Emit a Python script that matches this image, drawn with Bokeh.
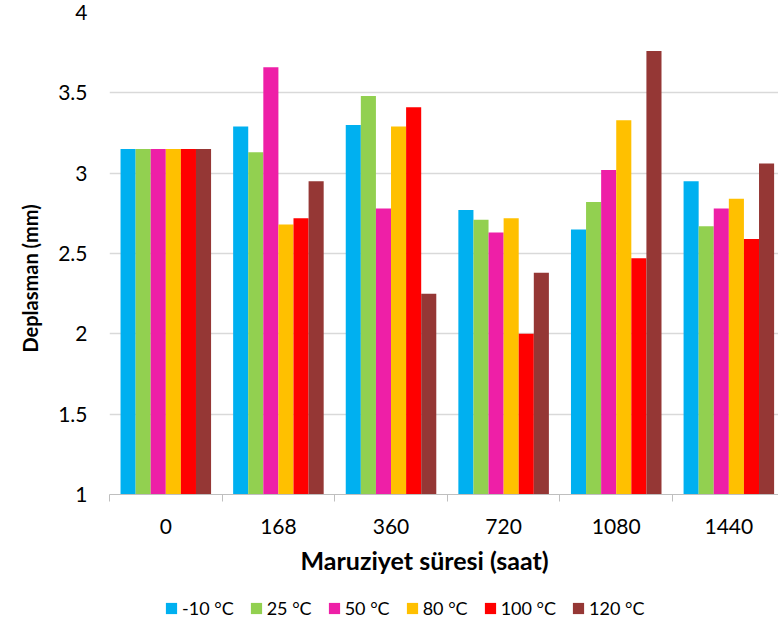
from bokeh.plotting import figure
from bokeh.models import ColumnDataSource, FixedTicker, Legend, LegendItem, CustomJSTickFormatter, Range1d, Title
from bokeh.layouts import column
from bokeh.embed import file_html
from bokeh.resources import INLINE

# ---- data ----
groups = ["0", "168", "360", "720", "1080", "1440"]
series_names = ["-10 °C", "25 °C", "50 °C", "80 °C", "100 °C", "120 °C"]
s_m10 = [3.15, 3.29, 3.30, 2.77, 2.65, 2.95]
s_25 = [3.15, 3.13, 3.48, 2.71, 2.82, 2.67]
s_50 = [3.15, 3.66, 2.78, 2.63, 3.02, 2.78]
s_80 = [3.15, 2.68, 3.29, 2.72, 3.33, 2.84]
s_100 = [3.15, 2.72, 3.41, 2.00, 2.47, 2.59]
s_120 = [3.15, 2.95, 2.25, 2.38, 3.76, 3.06]
y_ticks = [1, 1.5, 2, 2.5, 3, 3.5, 4]
x_title = "Maruziyet süresi (saat)"
y_title = "Deplasman (mm)"

series = [s_m10, s_25, s_50, s_80, s_100, s_120]
colors = ["#00B0F0", "#92D050", "#EE1FA7", "#FFC000", "#FF0000", "#953735"]

FONT = "Lato"
bar_w = 0.134
n_groups = len(groups)

p = figure(
    width=778, height=594,
    x_range=Range1d(0, 5.941), y_range=Range1d(1, 4),
    output_backend="svg", toolbar_location=None,
    min_border_left=109, min_border_right=0, min_border_top=12, min_border_bottom=100,
)
p.outline_line_color = None
p.background_fill_color = "white"
p.border_fill_color = "white"

# legend strip (separate small figure under the chart)
lf = figure(width=778, height=28, x_range=Range1d(0, 5.941), y_range=Range1d(10, 11),
            output_backend="svg", toolbar_location=None,
            x_axis_location=None, y_axis_location=None,
            min_border_left=0, min_border_right=0, min_border_top=0, min_border_bottom=0)
lf.outline_line_color = None
lf.grid.visible = False
lf.background_fill_color = "white"
lf.border_fill_color = "white"

items = []
for j, (vals, name, col) in enumerate(zip(series, series_names, colors)):
    xs = [i + 0.5 + (j - 2.5) * bar_w for i in range(n_groups)]
    src = ColumnDataSource(dict(x=xs, top=vals))
    p.vbar(x="x", top="top", bottom=1, width=bar_w, source=src,
           fill_color=col, line_color=None)
    # same data in the legend strip, outside its visible y range (swatch only)
    r = lf.vbar(x="x", top="top", bottom=1, width=bar_w, source=src,
                fill_color=col, line_color=None)
    items.append(LegendItem(label=name, renderers=[r]))

# x axis
p.xaxis.ticker = FixedTicker(ticks=[i + 0.5 for i in range(n_groups)],
                             minor_ticks=list(range(n_groups + 1)))
p.xaxis.major_label_overrides = {i + 0.5: g for i, g in enumerate(groups)}
p.xaxis.major_tick_out = 0
p.xaxis.major_tick_in = 0
p.xaxis.minor_tick_out = 7
p.xaxis.minor_tick_in = 0
p.xaxis.minor_tick_line_color = "#bfbfbf"
p.xaxis.axis_line_color = "#bfbfbf"
p.xaxis.major_label_text_font = FONT
p.xaxis.major_label_text_font_size = "21px"
p.xaxis.major_label_text_color = "black"
p.xaxis.major_label_standoff = 17

# y axis
p.yaxis.ticker = FixedTicker(ticks=y_ticks)
p.yaxis.formatter = CustomJSTickFormatter(code="return tick.toString();")
p.yaxis.major_tick_out = 0
p.yaxis.major_tick_in = 0
p.yaxis.minor_tick_out = 0
p.yaxis.minor_tick_in = 0
p.yaxis.axis_line_color = None
p.yaxis.major_label_text_font = FONT
p.yaxis.major_label_text_font_size = "21px"
p.yaxis.major_label_text_color = "black"
p.yaxis.major_label_standoff = 22

p.xgrid.grid_line_color = None
p.ygrid.ticker = FixedTicker(ticks=y_ticks)
p.ygrid.grid_line_color = "#d9d9d9"
p.ygrid.grid_line_width = 1.3

tx = Title(text=x_title, align="left", offset=191, standoff=13,
           text_font=FONT, text_font_size="25px", text_font_style="bold", text_color="black")
p.add_layout(tx, "below")

ty = Title(text=y_title, align="left", offset=142, standoff=27,
           text_font=FONT, text_font_size="20px", text_font_style="bold", text_color="black")
p.add_layout(ty, "left")

legend = Legend(items=items, orientation="horizontal", location=(55, 3))
legend.padding = 0
legend.margin = 0
legend.spacing = 15
legend.label_standoff = 4
legend.glyph_width = 14
legend.glyph_height = 14
legend.label_text_font = FONT
legend.label_text_font_size = "18px"
legend.label_text_color = "black"
legend.border_line_color = None
legend.background_fill_alpha = 0
lf.add_layout(legend, "center")

open("out.html", "w").write(file_html(column(p, lf), INLINE))
